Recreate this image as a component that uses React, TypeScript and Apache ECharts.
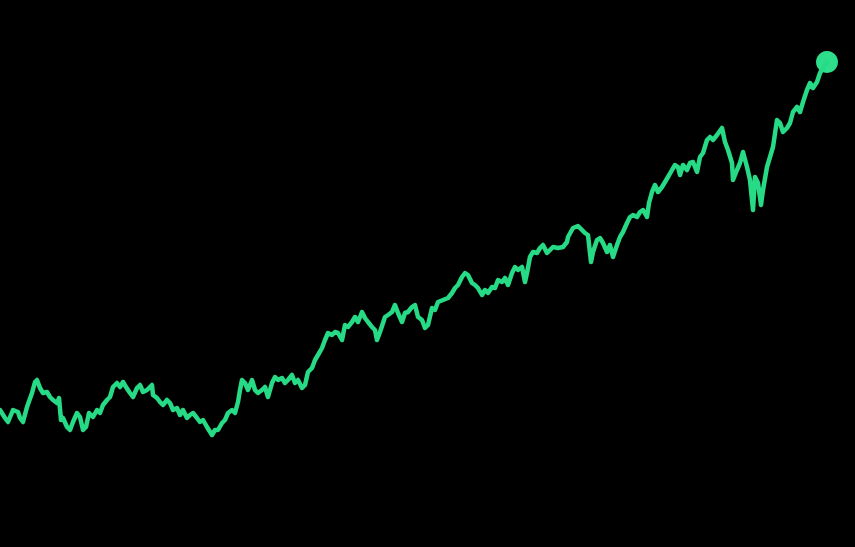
import React, { useEffect, useRef } from "react";
import * as echarts from "echarts";

// Trading-day index (x) and price level (y)
const days: number[] = [
  0, 5, 8, 13, 18, 20, 23, 27, 32, 35, 37, 40, 43, 47, 50, 53, 57, 59, 61, 63, 67, 70, 73, 77, 80, 83, 86, 89, 93, 97,
  100, 103, 107, 110, 113, 117, 120, 123, 126, 130, 133, 137,
  140, 143, 147, 152, 153, 157, 160, 163, 167, 170, 173, 177, 180, 183, 187, 190, 193, 197, 200, 203, 207, 212, 215, 218,
  222, 225, 228, 232, 235, 238, 240, 242, 245, 248, 252, 255, 258, 262, 265, 268, 272, 275, 278, 282,
  285, 288, 292, 295, 298, 302, 305, 308, 312, 315, 318, 322, 325, 328, 332, 335, 338, 342, 345, 348, 352, 355, 358, 362,
  365, 368, 372, 375, 377, 380, 385, 388, 392, 395, 398, 402, 405, 408, 412, 415, 418, 422, 425, 428,
  432, 435, 438, 443, 448, 452, 455, 458, 462, 465, 468, 472, 475, 478, 482, 485, 488, 492, 495, 498, 502, 505, 508, 512,
  515, 518, 522, 525, 527, 530, 533, 537, 540, 543, 547, 550, 553, 558, 563, 567,
  568, 573, 578, 582, 585, 588, 591, 593, 597, 600, 603, 607, 610, 613, 617, 620, 623, 627, 630, 633, 637, 640, 643, 647,
  649, 652, 655, 658, 662, 665, 668, 672, 675, 678, 680, 683, 687, 690, 693, 697, 700, 703,
  707, 710, 713, 717, 722, 725, 728, 732, 733, 737, 740, 743, 747, 750, 753, 755, 758, 761, 763, 767, 770, 773, 777, 780,
  783, 787, 790, 793, 797, 800, 803, 807, 810, 813, 817, 820, 825, 827,
];

const levels: number[] = [
  410, 418, 422, 410, 412, 418, 422, 407, 393, 382, 380, 388, 393, 392, 397, 400, 403, 398, 420, 418, 427, 430, 422, 413, 417, 430, 427, 413, 417, 410,
  413, 405, 400, 397, 387, 383, 387, 382, 387, 393, 397, 388,
  385, 392, 390, 385, 395, 398, 402, 405, 400, 403, 410, 408, 415, 410, 418, 415, 413, 418, 422, 420, 427, 435, 430, 430,
  423, 420, 413, 410, 413, 402, 390, 380, 383, 390, 380, 390, 393, 390, 387, 397, 383, 377, 380, 378,
  383, 380, 375, 383, 380, 388, 385, 372, 368, 360, 355, 348, 340, 333, 335, 332, 333, 340, 325, 327, 322, 317, 322, 312,
  318, 322, 327, 330, 340, 332, 317, 315, 312, 305, 313, 322, 313, 312, 307, 305, 317, 320, 328, 325,
  308, 310, 302, 300, 298, 293, 288, 285, 277, 273, 275, 283, 285, 288, 295, 290, 293, 287, 288, 280, 282, 278, 285, 273,
  267, 270, 267, 282, 273, 257, 252, 253, 248, 245, 253, 250, 247, 248, 247, 242,
  237, 228, 226, 230, 233, 235, 262, 252, 240, 238, 243, 252, 245, 257, 245, 237, 232, 223, 217, 215, 217, 212, 210, 217,
  203, 192, 185, 192, 187, 182, 177, 170, 165, 167, 175, 165, 170, 163, 162, 172, 157, 153,
  140, 137, 140, 135, 128, 142, 150, 163, 180, 170, 163, 152, 167, 180, 210, 177, 183, 205, 190, 167, 157, 147, 120, 123,
  132, 128, 123, 112, 107, 112, 102, 90, 83, 88, 82, 73, 65, 62,
].map((y) => 547 - y);

const LINE_COLOR = "#27da85";
const DOT_COLOR = "#2ddf8a";

export default function App() {
  const ref = useRef<HTMLDivElement>(null);
  useEffect(() => {
    document.body.style.margin = "0";
    document.body.style.background = "#000";
    const chart = echarts.init(ref.current!, null, { renderer: "svg" });
    const series = days.map((d, i) => [d, levels[i]]);
    const last = series[series.length - 1];
    chart.setOption({
      animation: false,
      backgroundColor: "#000000",
      grid: { left: 0, right: 0, top: 0, bottom: 0 },
      xAxis: { type: "value", min: 0, max: 855, show: false },
      yAxis: { type: "value", min: 0, max: 547, show: false },
      series: [
        {
          type: "line",
          data: series,
          showSymbol: false,
          smooth: false,
          lineStyle: { color: LINE_COLOR, width: 4.5, join: "round", cap: "round" },
        },
        {
          type: "scatter",
          data: [last],
          symbol: "circle",
          symbolSize: 22,
          itemStyle: { color: DOT_COLOR, opacity: 1 },
        },
      ],
    });
    return () => chart.dispose();
  }, []);
  return <div ref={ref} style={{ width: 855, height: 547, background: "#000" }} />;
}
